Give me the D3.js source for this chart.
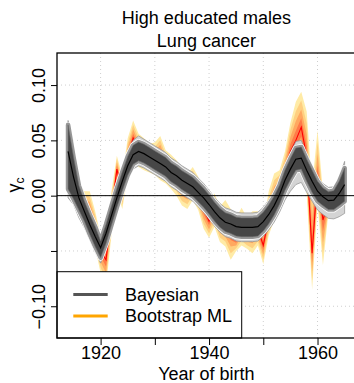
<!DOCTYPE html>
<html><head><meta charset="utf-8">
<script src="https://cdn.jsdelivr.net/npm/d3@7/dist/d3.min.js"></script>
<style>body{margin:0;background:#fff}svg{display:block;font-family:"Liberation Sans",Arial,Helvetica,sans-serif}</style>
</head><body><svg id="c" width="354" height="383"></svg>
<script>
const years=[1914,1915,1916,1917,1918,1919,1920,1921,1922,1923,1924,1925,1926,1927,1928,1929,1930,1931,1932,1933,1934,1935,1936,1937,1938,1939,1940,1941,1942,1943,1944,1945,1946,1947,1948,1949,1950,1951,1952,1953,1954,1955,1956,1957,1958,1959,1960,1961,1962,1963,1964,1965];
// Bayesian posterior median and band offsets
const bayesMed=[0.040,0.017,-0.002,-0.014,-0.026,-0.037,-0.047,-0.034,-0.018,-0.002,0.013,0.027,0.037,0.040,0.038,0.035,0.032,0.029,0.026,0.021,0.018,0.014,0.011,0.008,0.003,-0.002,-0.008,-0.0145,-0.020,-0.024,-0.0256,-0.028,-0.0286,-0.0286,-0.0286,-0.028,-0.0235,-0.017,-0.009,0.001,0.014,0.024,0.033,0.034,0.023,0.013,0.004,-0.001,-0.0045,-0.004,0.002,0.010];
const bayesUp=[0.028,0.023,0.017,0.014,0.014,0.013,0.010,0.012,0.013,0.013,0.013,0.013,0.013,0.014,0.013,0.013,0.013,0.013,0.013,0.013,0.013,0.013,0.013,0.013,0.013,0.013,0.013,0.013,0.013,0.013,0.013,0.013,0.013,0.013,0.013,0.013,0.013,0.013,0.013,0.013,0.014,0.015,0.016,0.016,0.015,0.014,0.013,0.012,0.012,0.012,0.015,0.021];
const bayesDn=[0.042,0.025,0.018,0.015,0.014,0.014,0.014,0.014,0.013,0.013,0.013,0.013,0.013,0.013,0.013,0.013,0.013,0.013,0.013,0.013,0.013,0.013,0.013,0.013,0.013,0.013,0.013,0.013,0.013,0.013,0.013,0.013,0.013,0.013,0.013,0.013,0.013,0.014,0.015,0.016,0.018,0.020,0.023,0.022,0.020,0.018,0.017,0.016,0.016,0.017,0.021,0.026];
const bayesCoreUp=[0.024,0.018,0.011,0.009,0.009,0.009,0.006,0.008,0.0085,0.0085,0.0085,0.0085,0.0085,0.0085,0.0085,0.0085,0.0085,0.0085,0.0085,0.0085,0.0085,0.0085,0.0085,0.0085,0.0085,0.0085,0.0085,0.0085,0.0085,0.0085,0.0085,0.0085,0.0085,0.0085,0.0085,0.0085,0.0085,0.0085,0.0085,0.0085,0.009,0.0095,0.010,0.010,0.010,0.010,0.009,0.008,0.008,0.0085,0.011,0.015];
const bayesCoreDn=[0.034,0.020,0.011,0.009,0.009,0.009,0.009,0.009,0.0085,0.0085,0.0085,0.0085,0.0085,0.0085,0.0085,0.0085,0.0085,0.0085,0.0085,0.0085,0.0085,0.0085,0.0085,0.0085,0.0085,0.0085,0.0085,0.0085,0.0085,0.0085,0.0085,0.0085,0.0085,0.0085,0.0085,0.0085,0.0085,0.0085,0.0085,0.0085,0.009,0.0095,0.010,0.010,0.010,0.010,0.009,0.008,0.008,0.0085,0.011,0.015];
// Bootstrap ML median and outer interval
const mlMed=[0.040,0.017,-0.001,-0.008,-0.016,-0.030,-0.050,-0.058,-0.016,0.024,0.004,0.034,0.052,0.042,0.038,0.034,0.033,0.038,0.025,0.021,0.016,0.008,0.005,0.012,0.002,-0.012,-0.023,-0.010,-0.025,-0.028,-0.034,-0.040,-0.028,-0.035,-0.034,-0.030,-0.045,-0.020,-0.004,0.006,0.020,0.040,0.050,0.062,0.035,-0.052,0.017,-0.022,-0.005,-0.004,0.002,0.010];
const mlLo=[0.010,-0.003,-0.015,-0.022,-0.032,-0.047,-0.070,-0.082,-0.036,0.004,-0.012,0.017,0.030,0.026,0.023,0.021,0.019,0.014,0.011,0.006,0.000,-0.009,-0.012,-0.004,-0.013,-0.030,-0.038,-0.028,-0.042,-0.046,-0.058,-0.050,-0.045,-0.048,-0.052,-0.045,-0.062,-0.036,-0.022,-0.012,0.000,0.016,0.024,0.028,0.002,-0.085,-0.008,-0.063,-0.016,-0.015,-0.012,-0.010];
const mlHi=[0.060,0.034,0.012,0.004,0.004,-0.014,-0.036,-0.040,0.004,0.036,0.018,0.052,0.068,0.056,0.052,0.047,0.048,0.054,0.041,0.037,0.032,0.024,0.020,0.026,0.017,0.003,-0.006,0.002,-0.010,-0.004,-0.012,-0.020,-0.011,-0.020,-0.014,-0.014,-0.025,0.004,0.020,0.023,0.040,0.066,0.085,0.094,0.076,0.008,0.059,0.004,0.006,0.007,0.014,0.026];
const xTicks=[1920,1930,1940,1950,1960];
const xLabels=["1920","","1940","","1960"];
const yTicks=[-0.10,-0.05,0.00,0.05,0.10];
const yLabels=["\u22120.10","","0.00","0.05","0.10"];
const mlLevels=[1,0.75,0.5,0.25];
const mlColors=["#FFEBA6","#FFCF80","#FFA860","#FF7A48"];
const legendItems=["Bayesian","Bootstrap ML"];
const legendColors=["#555555","#FFA500"];

const L=57,R=355.7,T=53,B=338;
const x=d3.scaleLinear().domain([1911.96,1967.04]).range([L,R]);
const y=d3.scaleLinear().domain([-0.1287,0.1290]).range([B,T]);
const svg=d3.select("#c");
svg.append("defs").append("clipPath").attr("id","clip").append("rect")
  .attr("x",L).attr("y",T).attr("width",R-L).attr("height",B-T);
const plot=svg.append("g").attr("clip-path","url(#clip)");

// grid
plot.selectAll(".gx").data(xTicks).enter().append("line")
  .attr("x1",d=>x(d)).attr("x2",d=>x(d)).attr("y1",T).attr("y2",B)
  .attr("stroke","#cfcfcf").attr("stroke-width",1).attr("stroke-dasharray","1,3");
plot.selectAll(".gy").data(yTicks).enter().append("line")
  .attr("x1",L).attr("x2",R).attr("y1",d=>y(d)).attr("y2",d=>y(d))
  .attr("stroke","#cfcfcf").attr("stroke-width",1).attr("stroke-dasharray","1,3");

const idx=years.map((d,i)=>i);
// ML fan
mlLevels.forEach((f,k)=>{
  const a=d3.area().x(i=>x(years[i]))
    .y0(i=>y(mlMed[i]-(mlMed[i]-mlLo[i])*f))
    .y1(i=>y(mlMed[i]+(mlHi[i]-mlMed[i])*f));
  plot.append("path").datum(idx).attr("d",a).attr("fill",mlColors[k]).attr("stroke","none");
});
plot.append("path").datum(idx)
  .attr("d",d3.line().x(i=>x(years[i])).y(i=>y(mlMed[i])))
  .attr("fill","none").attr("stroke","#FF0000").attr("stroke-width",1.1);

// Bayesian fan
const outer=d3.area().x(i=>x(years[i])).y0(i=>y(bayesMed[i]-bayesDn[i])).y1(i=>y(bayesMed[i]+bayesUp[i]));
const core=d3.area().x(i=>x(years[i])).y0(i=>y(bayesMed[i]-bayesCoreDn[i])).y1(i=>y(bayesMed[i]+bayesCoreUp[i]));
plot.append("path").datum(idx).attr("d",outer).attr("fill","#d4d4d4").attr("stroke","#8f8f8f").attr("stroke-width",0.7);
plot.append("path").datum(idx).attr("d",core).attr("fill","none").attr("stroke","#ffffff").attr("stroke-width",6).attr("stroke-linejoin","round");
plot.append("path").datum(idx).attr("d",core).attr("fill","none").attr("stroke","#979797").attr("stroke-width",4.6).attr("stroke-linejoin","round");
plot.append("path").datum(idx).attr("d",core).attr("fill","#474747").attr("stroke","#6a6a6a").attr("stroke-width",0.6);
plot.append("path").datum(idx)
  .attr("d",d3.line().x(i=>x(years[i])).y(i=>y(bayesMed[i])))
  .attr("fill","none").attr("stroke","#000").attr("stroke-width",1.2);

// zero line
plot.append("line").attr("x1",L).attr("x2",R).attr("y1",y(0)).attr("y2",y(0))
  .attr("stroke","#000").attr("stroke-width",1);

// legend
const lg=svg.append("g");
lg.append("rect").attr("x",L).attr("y",271.7).attr("width",241.7-L).attr("height",B-271.7)
  .attr("fill","#fff").attr("stroke","#000").attr("stroke-width",1);
legendItems.forEach((t,k)=>{
  const cy=[294.5,316][k];
  lg.append("line").attr("x1",73.3).attr("x2",107.7).attr("y1",cy).attr("y2",cy)
    .attr("stroke",legendColors[k]).attr("stroke-width",3);
  lg.append("text").attr("x",125).attr("y",[300.7,321.7][k]).attr("font-size",18).attr("fill","#000").text(t);
});

// border
svg.append("rect").attr("x",L).attr("y",T).attr("width",R-L).attr("height",B-T)
  .attr("fill","none").attr("stroke","#000").attr("stroke-width",1.3);

// axes
const ax=svg.append("g").attr("transform",`translate(0,${B})`)
  .call(d3.axisBottom(x).tickValues(xTicks).tickSize(7).tickFormat((d,i)=>xLabels[i]));
ax.select(".domain").remove();
ax.selectAll("text").attr("y",21).attr("dy",0).attr("font-size",18).attr("fill","#000").attr("font-family",null);
ax.selectAll("line").attr("stroke","#000");
const ay=svg.append("g").attr("transform",`translate(${L},0)`)
  .call(d3.axisLeft(y).tickValues(yTicks).tickSize(6).tickFormat((d,i)=>yLabels[i]));
ay.select(".domain").remove();
ay.selectAll("line").attr("stroke","#000");
ay.selectAll("text").attr("x",0).attr("dy",0).attr("text-anchor","middle")
  .attr("transform","translate(-12,0) rotate(-90)").attr("font-size",18).attr("fill","#000").attr("font-family",null);

// titles
svg.append("text").attr("x",206.4).attr("y",24).attr("text-anchor","middle").attr("font-size",18).text("High educated males");
svg.append("text").attr("x",206.4).attr("y",47).attr("text-anchor","middle").attr("font-size",18).text("Lung cancer");
svg.append("text").attr("x",206.4).attr("y",380).attr("text-anchor","middle").attr("font-size",18).text("Year of birth");
const yl=svg.append("text").attr("transform","translate(20,185) rotate(-90)").attr("text-anchor","middle").attr("font-size",18);
yl.append("tspan").text("\u03B3");
yl.append("tspan").attr("font-size",12).attr("dy",4).text("c");
</script></body></html>
